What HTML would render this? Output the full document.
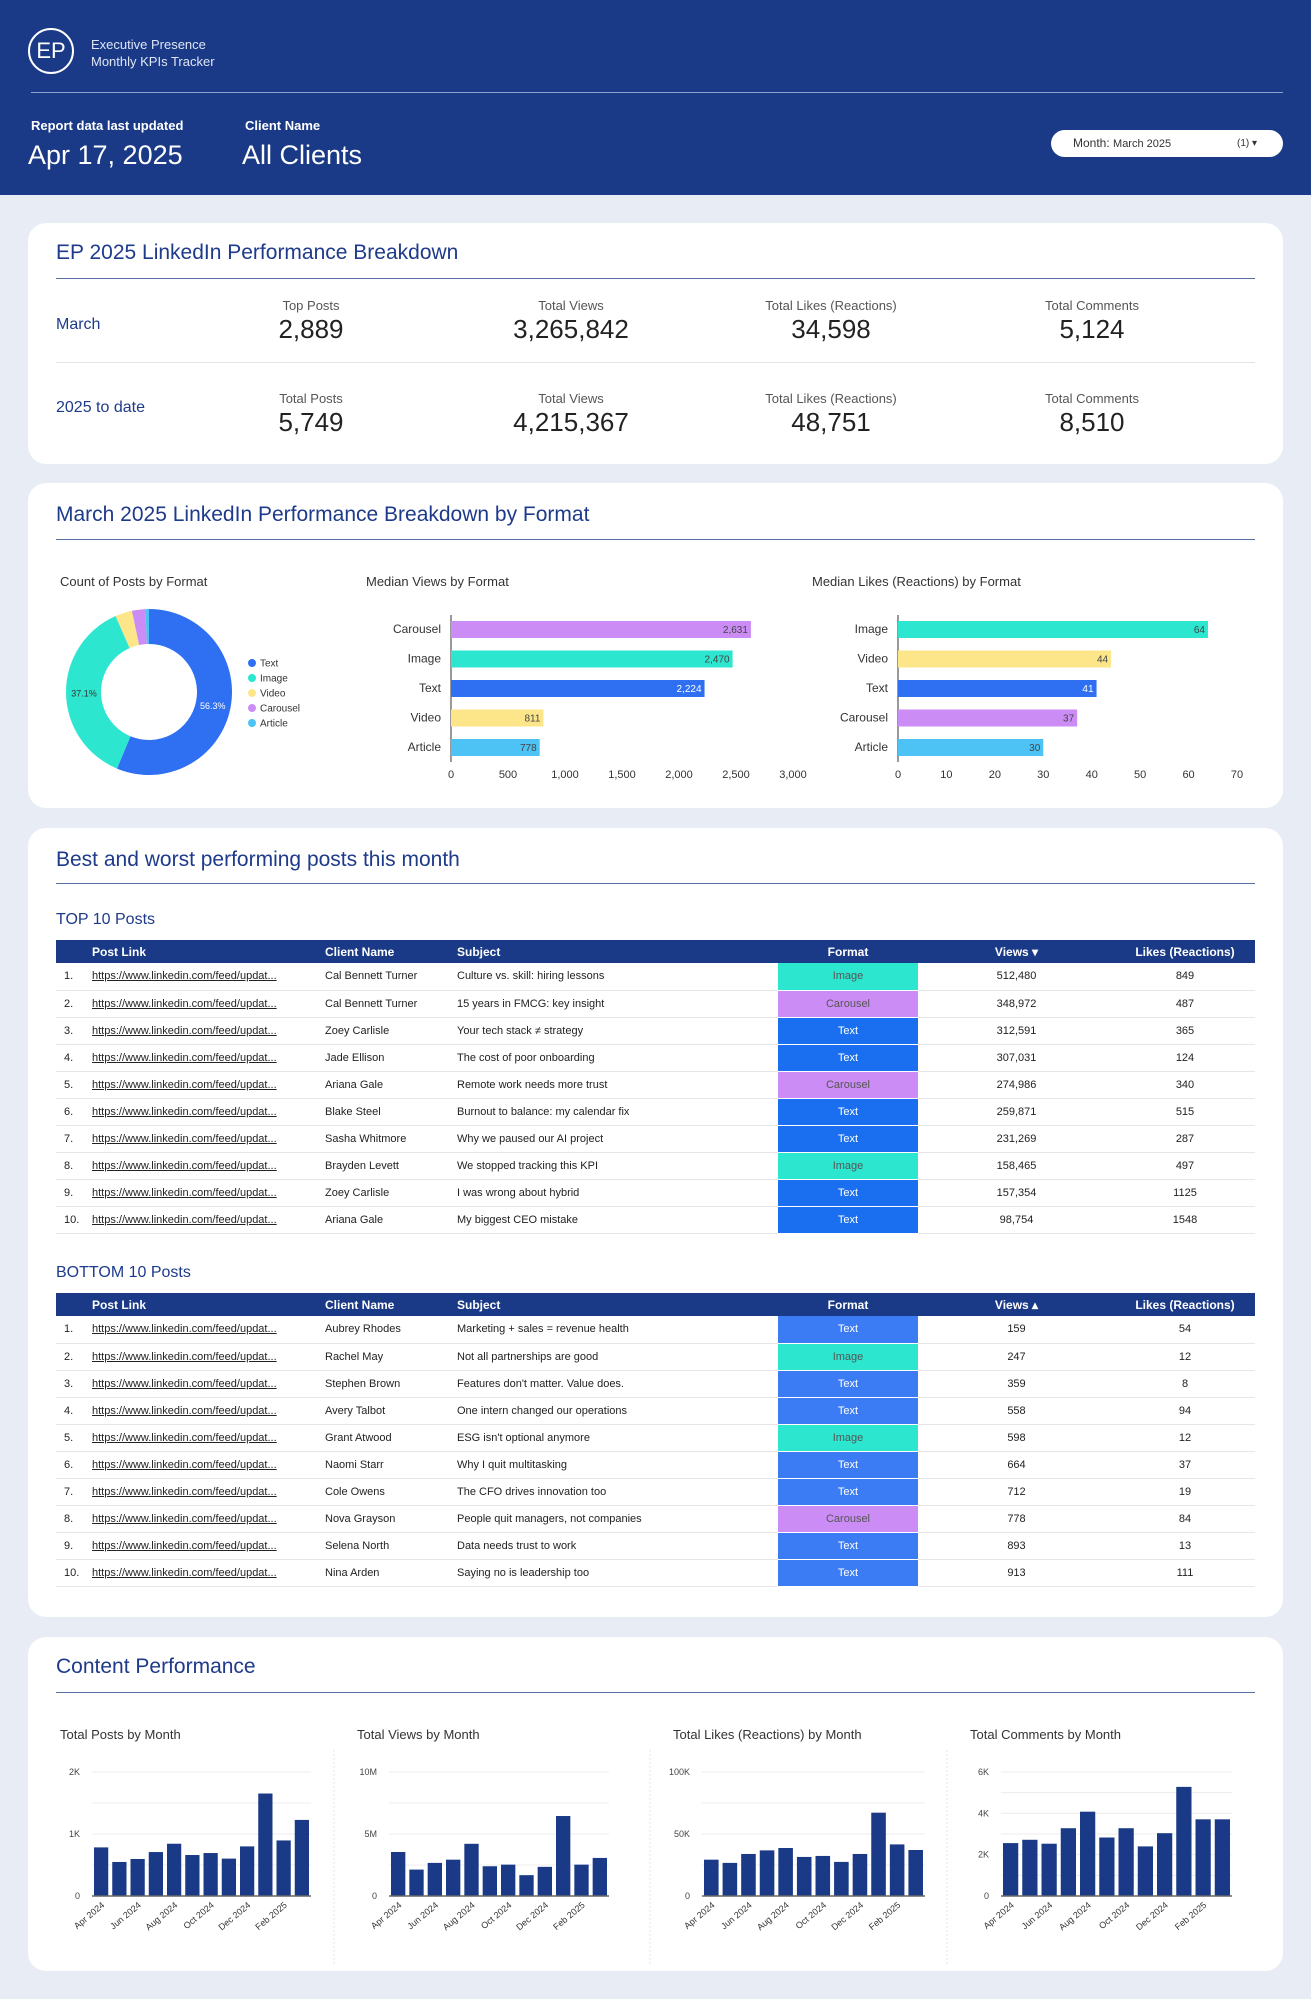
<!DOCTYPE html>
<html><head><meta charset="utf-8">
<style>
*{box-sizing:border-box;margin:0;padding:0}
body{width:1311px;height:1999px;background:#e8ecf4;font-family:"Liberation Sans",sans-serif;position:relative;overflow:hidden;color:#222}
.abs{position:absolute}
.header{position:absolute;left:0;top:0;width:1311px;height:195px;background:#1a3a87;color:#fff}
.card{position:absolute;left:28px;width:1255px;background:#fff;border-radius:18px}
.ctitle{position:absolute;left:28px;font-size:21px;color:#1e3a8a}
.uline{position:absolute;left:28px;width:1199px;height:1px;background:#5a6fa8}
.kl{position:absolute;font-size:13px;color:#555;text-align:center;width:240px}
.kv{position:absolute;font-size:26px;color:#222;text-align:center;width:240px}
.rl{position:absolute;left:28px;font-size:16px;color:#1e3a8a}
.sub{position:absolute;font-size:13px;color:#333}
table{border-collapse:collapse;position:absolute;left:28px;width:1199px;table-layout:fixed;font-size:11px}
th{background:#1a3a87;color:#fff;height:23px;text-align:left;font-weight:bold;font-size:12px}
td{height:27px;border-bottom:1px solid #e6e6e6;color:#222;white-space:nowrap;overflow:hidden}
td.lnk{text-decoration:underline;color:#222}
td.fmt{text-align:center;color:#fff;border-bottom:1px solid #fff}
.c{text-align:center}
.tlabel{position:absolute;left:28px;font-size:16px;color:#1e3a8a}
svg text{font-family:"Liberation Sans",sans-serif}
</style></head><body>
<div class="header">
  <div class="abs" style="left:28px;top:28px;width:46px;height:46px;border:2px solid #fff;border-radius:50%;font-size:22px;text-align:center;line-height:42px">EP</div>
  <div class="abs" style="left:91px;top:36px;font-size:13px;line-height:17px;color:#dfe6f5">Executive Presence<br>Monthly KPIs Tracker</div>
  <div class="abs" style="left:31px;top:92px;width:1252px;height:1px;background:#8fa2cf"></div>
  <div class="abs" style="left:31px;top:118px;font-size:13px;font-weight:bold">Report data last updated</div>
  <div class="abs" style="left:28px;top:140px;font-size:27px">Apr 17, 2025</div>
  <div class="abs" style="left:245px;top:118px;font-size:13px;font-weight:bold">Client Name</div>
  <div class="abs" style="left:242px;top:140px;font-size:27px">All Clients</div>
  <div class="abs" style="left:1051px;top:130px;width:232px;height:27px;background:#fff;border-radius:14px;color:#333;font-size:12px;line-height:27px;padding-left:22px">Month: <span style="font-size:11px">March 2025</span><span class="abs" style="left:186px;font-size:10px">(1) &#9662;</span></div>
</div>

<div class="card" style="top:223px;height:241px">
  <div class="ctitle" style="top:18px">EP 2025 LinkedIn Performance Breakdown</div>
  <div class="uline" style="top:55px"></div>
  <div class="rl" style="top:93px">March</div>
  <div class="kl" style="left:163px;top:75px">Top Posts</div><div class="kv" style="left:163px;top:91px">2,889</div>
  <div class="kl" style="left:423px;top:75px">Total Views</div><div class="kv" style="left:423px;top:91px">3,265,842</div>
  <div class="kl" style="left:683px;top:75px">Total Likes (Reactions)</div><div class="kv" style="left:683px;top:91px">34,598</div>
  <div class="kl" style="left:944px;top:75px">Total Comments</div><div class="kv" style="left:944px;top:91px">5,124</div>
  <div class="abs" style="left:28px;top:139px;width:1199px;height:1px;background:#e4e4e4"></div>
  <div class="rl" style="top:176px">2025 to date</div>
  <div class="kl" style="left:163px;top:168px">Total Posts</div><div class="kv" style="left:163px;top:184px">5,749</div>
  <div class="kl" style="left:423px;top:168px">Total Views</div><div class="kv" style="left:423px;top:184px">4,215,367</div>
  <div class="kl" style="left:683px;top:168px">Total Likes (Reactions)</div><div class="kv" style="left:683px;top:184px">48,751</div>
  <div class="kl" style="left:944px;top:168px">Total Comments</div><div class="kv" style="left:944px;top:184px">8,510</div>
</div>

<div class="card" style="top:483px;height:325px">
  <div class="ctitle" style="top:20px">March 2025 LinkedIn Performance Breakdown by Format</div>
  <div class="uline" style="top:56px"></div>
  <div class="sub" style="left:32px;top:91px">Count of Posts by Format</div>
  <div class="sub" style="left:338px;top:91px">Median Views by Format</div>
  <div class="sub" style="left:784px;top:91px">Median Likes (Reactions) by Format</div>
</div>
<svg id="fmt" class="abs" style="left:0;top:0" width="1311" height="830"></svg>

<div class="card" style="top:828px;height:789px">
  <div class="ctitle" style="top:20px">Best and worst performing posts this month</div>
  <div class="uline" style="top:55px"></div>
  <div class="tlabel" style="top:83px">TOP 10 Posts</div>
  <table id="topT" style="top:112px"></table>
  <div class="tlabel" style="top:436px">BOTTOM 10 Posts</div>
  <table id="botT" style="top:465px"></table>
</div>

<div class="card" style="top:1637px;height:334px">
  <div class="ctitle" style="top:18px">Content Performance</div>
  <div class="uline" style="top:55px"></div>
</div>
<svg id="cp" class="abs" style="left:0;top:0" width="1311" height="1999"></svg>

<script>
const NS="http://www.w3.org/2000/svg";
function mk(p,t,a,txt){const e=document.createElementNS(NS,t);for(const k in a)e.setAttribute(k,a[k]);if(txt!==undefined)e.textContent=txt;p.appendChild(e);return e;}
const COL={Text:"#2f6ff2",Image:"#2de6d0",Video:"#fde68a",Carousel:"#cc8cf5",Article:"#4cc2f5"};

// donut
const donutCats=["Text","Image","Video","Carousel","Article"];
const donutVals=[56.3,37.1,3.3,2.6,0.7];
// median views
const viewCats=["Carousel","Image","Text","Video","Article"];
const viewVals=[2631,2470,2224,811,778];
const viewTicks=[0,500,1000,1500,2000,2500,3000];
// median likes
const likeCats=["Image","Video","Text","Carousel","Article"];
const likeVals=[64,44,41,37,30];
const likeTicks=[0,10,20,30,40,50,60,70];

const fmt=document.getElementById('fmt');
(function(){
  const cx=149,cy=692,R=83,r=48;let tot=donutVals.reduce((a,b)=>a+b,0),a0=-Math.PI/2;
  donutVals.forEach((v,i)=>{
    const a1=a0+v/tot*2*Math.PI,lg=(a1-a0)>Math.PI?1:0;
    const p=(rad,a)=>[cx+rad*Math.cos(a),cy+rad*Math.sin(a)];
    const [x1,y1]=p(R,a0),[x2,y2]=p(R,a1),[x3,y3]=p(r,a1),[x4,y4]=p(r,a0);
    const s=mk(fmt,'path',{d:`M${x1},${y1}A${R},${R} 0 ${lg} 1 ${x2},${y2}L${x3},${y3}A${r},${r} 0 ${lg} 0 ${x4},${y4}Z`,fill:COL[donutCats[i]]});
    
    
    if(v>10){const am=(a0+a1)/2;const t=mk(fmt,'text',{x:cx+65*Math.cos(am),y:cy+65*Math.sin(am)+4,'font-size':9,fill:i==0?'#fff':'#333','text-anchor':'middle'},v.toFixed(1)+'%');
      
      }
    a0=a1;
  });
  donutCats.forEach((c,i)=>{const y=663+i*15;
    const d=mk(fmt,'circle',{cx:252,cy:y,r:4,fill:COL[c]});
    
    
    const t=mk(fmt,'text',{x:260,y:y+3.5,'font-size':10,fill:'#333'},c);
    
    });
})();
function hbar(cats,vals,ticks,x0,x1,max,name){
  const sx=v=>x0+v/max*(x1-x0),y0=629,step=29.5;
  mk(fmt,'line',{x1:x0,y1:615,x2:x0,y2:762,stroke:'#333','stroke-width':1});
  cats.forEach((c,i)=>{const y=y0+i*step;
    const b=mk(fmt,'rect',{x:x0,y:y-8,width:sx(vals[i])-x0,height:17,fill:COL[c]});
    
    
    const l=mk(fmt,'text',{x:x0-10,y:y+4,'font-size':12,fill:'#333','text-anchor':'end'},c);
    
    
    const v=mk(fmt,'text',{x:sx(vals[i])-3,y:y+4,'font-size':10,fill:c=='Text'?'#fff':'#444','text-anchor':'end'},vals[i].toLocaleString('en-US'));
    
    });
  ticks.forEach(t=>{const e=mk(fmt,'text',{x:sx(t),y:778,'font-size':11,fill:'#333','text-anchor':'middle'},t.toLocaleString('en-US'));
    
    });
}
hbar(viewCats,viewVals,viewTicks,451,793,3000,'views');
hbar(likeCats,likeVals,likeTicks,898,1237,70,'likes');

// tables
const topRows=[["Cal Bennett Turner","Culture vs. skill: hiring lessons","Image","512,480","849"],["Cal Bennett Turner","15 years in FMCG: key insight","Carousel","348,972","487"],["Zoey Carlisle","Your tech stack ≠ strategy","Text","312,591","365"],["Jade Ellison","The cost of poor onboarding","Text","307,031","124"],["Ariana Gale","Remote work needs more trust","Carousel","274,986","340"],["Blake Steel","Burnout to balance: my calendar fix","Text","259,871","515"],["Sasha Whitmore","Why we paused our AI project","Text","231,269","287"],["Brayden Levett","We stopped tracking this KPI","Image","158,465","497"],["Zoey Carlisle","I was wrong about hybrid","Text","157,354","1125"],["Ariana Gale","My biggest CEO mistake","Text","98,754","1548"]];
const botRows=[["Aubrey Rhodes","Marketing + sales = revenue health","Text","159","54"],["Rachel May","Not all partnerships are good","Image","247","12"],["Stephen Brown","Features don't matter. Value does.","Text","359","8"],["Avery Talbot","One intern changed our operations","Text","558","94"],["Grant Atwood","ESG isn't optional anymore","Image","598","12"],["Naomi Starr","Why I quit multitasking","Text","664","37"],["Cole Owens","The CFO drives innovation too","Text","712","19"],["Nova Grayson","People quit managers, not companies","Carousel","778","84"],["Selena North","Data needs trust to work","Text","893","13"],["Nina Arden","Saying no is leadership too","Text","913","111"]];
const TC={Text:"#1a6ff0",Image:"#2de6d0",Carousel:"#cc8cf5"};
function fillTable(id,rows,arrow,textCol){
  const t=document.getElementById(id);
  t.innerHTML='<colgroup><col style="width:36px"><col style="width:233px"><col style="width:132px"><col style="width:321px"><col style="width:140px"><col style="width:197px"><col style="width:140px"></colgroup>'+
  '<tr><th></th><th>Post Link</th><th>Client Name</th><th>Subject</th><th class="c">Format</th><th class="c">Views '+arrow+'</th><th class="c">Likes (Reactions)</th></tr>';
  rows.forEach((r,i)=>{const tr=document.createElement('tr');
    
    
    const bg=r[2]=='Text'?textCol:TC[r[2]];
    tr.innerHTML=`<td style="padding-left:8px">${i+1}.</td><td class="lnk">https://www.linkedin.com/feed/updat...</td><td>${r[0]}</td><td>${r[1]}</td><td class="fmt" style="background:${bg};color:${r[2]=='Text'?'#fff':'#555'}">${r[2]}</td><td class="c">${r[3]}</td><td class="c">${r[4]}</td>`;
    t.appendChild(tr);});
}
fillTable('topT',topRows,'&#9662;','#1a6ff0');
fillTable('botT',botRows,'&#9652;','#3b7cf5');

// monthly charts
const monthTicks=["Apr 2024","Jun 2024","Aug 2024","Oct 2024","Dec 2024","Feb 2025"];
const postsVals=[784,549,597,709,843,661,693,603,800,1653,896,1227];
const viewsVals=[3.55,2.13,2.67,2.93,4.21,2.4,2.53,1.68,2.35,6.45,2.53,3.07];
const likesVals=[29.3,26.7,33.9,36.8,38.7,31.5,32.3,27.5,33.9,67.2,41.6,37.1];
const commentsVals=[2.56,2.72,2.53,3.28,4.08,2.83,3.28,2.4,3.04,5.28,3.71,3.71];
const postsTicks=["0","1K","2K"],viewsTicks=["0","5M","10M"],likesTicks=["0","50K","100K"],commentsTicks=["0","2K","4K","6K"];
const cp=document.getElementById('cp');
function col(title,tx,x0,x1,vals,max,ticks,grids,name){
  const t=mk(cp,'text',{x:tx,y:1739,'font-size':13,fill:'#333'},title);
  
  
  const yT=1772,yB=1896,sy=v=>yB-v/max*(yB-yT);
  for(let g=1;g<=grids;g++){mk(cp,'line',{x1:x0,x2:x1,y1:sy(max*g/grids),y2:sy(max*g/grids),stroke:'#ececec'});}
  ticks.forEach((lab,i)=>{const e=mk(cp,'text',{x:x0-12,y:sy(max*i/(ticks.length-1))+3,'font-size':9,fill:'#444','text-anchor':'end'},lab);
    
    });
  const step=(x1-x0)/vals.length;
  vals.forEach((v,i)=>{const b=mk(cp,'rect',{x:x0+i*step+2,y:sy(v),width:step-4,height:yB-sy(v),fill:'#1a3a87'});
    
    });
  mk(cp,'line',{x1:x0,x2:x1,y1:yB,y2:yB,stroke:'#666','stroke-width':1.5});
  monthTicks.forEach((m,i)=>{const cx=x0+(2*i+0.5)*step+4;
    const e=mk(cp,'text',{x:cx,y:yB+10,'font-size':9,fill:'#333','text-anchor':'end',transform:`rotate(-40 ${cx} ${yB+10})`},m);
    
    });
}
col("Total Posts by Month",60,92,311,postsVals,2000,postsTicks,4,'posts');
col("Total Views by Month",357,389,609,viewsVals,10,viewsTicks,4,'views-month');
col("Total Likes (Reactions) by Month",673,702,925,likesVals,100,likesTicks,4,'likes-month');
col("Total Comments by Month",970,1001,1232,commentsVals,6,commentsTicks,6,'comments-month');
[334,650,947].forEach(x=>mk(cp,'line',{x1:x,x2:x,y1:1750,y2:1965,stroke:'#e4e4e4','stroke-dasharray':'2,2'}));
</script>
</body></html>
